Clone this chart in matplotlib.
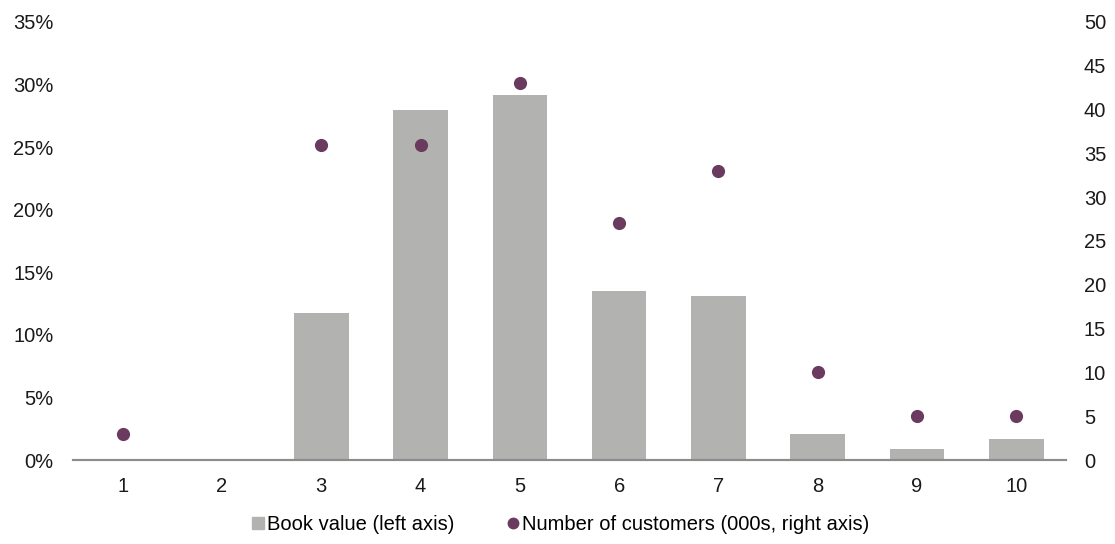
import matplotlib.pyplot as plt
from matplotlib.ticker import PercentFormatter
from matplotlib.lines import Line2D

plt.rcParams['font.family'] = ['Liberation Sans', 'DejaVu Sans']

categories = [1, 2, 3, 4, 5, 6, 7, 8, 9, 10]
book_value = [0, 0, 11.75, 28.0, 29.2, 13.5, 13.1, 2.1, 0.9, 1.7]
customers = [3, None, 36, 36, 43, 27, 33, 10, 5, 5]

bar_color = '#b2b3b1'
dot_color = '#6b3a5f'
text_color = '#1a1a1a'


def plot_chart():
    fig = plt.figure(figsize=(11.15, 5.44), dpi=100)
    ax = fig.add_axes([0.0655, 0.1544, 0.8905, 0.8052])
    ax.bar(categories, book_value, width=0.55, color=bar_color, zorder=2)
    ax.set_xlim(0.5, 10.5)
    ax.set_ylim(0, 35)
    ax.set_yticks(range(0, 36, 5))
    ax.yaxis.set_major_formatter(PercentFormatter(decimals=0))
    ax.set_xticks(categories)

    ax2 = ax.twinx()
    xs = [c for c, v in zip(categories, customers) if v is not None]
    ys = [v for v in customers if v is not None]
    ax2.scatter(xs, ys, s=90, color=dot_color, zorder=3, linewidths=0)
    ax2.set_ylim(0, 50)
    ax2.set_yticks(range(0, 51, 5))

    for a in (ax, ax2):
        for s in ('top', 'left', 'right'):
            a.spines[s].set_visible(False)
        a.spines['bottom'].set_color('#8c8c8c')
        a.spines['bottom'].set_linewidth(1.5)
        a.tick_params(length=0, labelsize=14.5, colors=text_color)
    ax.tick_params(axis='y', pad=14)
    ax.tick_params(axis='x', pad=12)
    ax2.tick_params(axis='y', pad=13)

    handles = [
        Line2D([], [], marker='s', linestyle='none', markersize=9,
               color=bar_color),
        Line2D([], [], marker='o', linestyle='none', markersize=7.5,
               color=dot_color),
    ]
    labels = ['Book value (left axis)', 'Number of customers (000s, right axis)']
    fig.legend(handles, labels, loc='center', bbox_to_anchor=(0.5027, 0.035),
               ncol=2, frameon=False, fontsize=14.5, handletextpad=0.15,
               columnspacing=2.6, handlelength=0.6)

    fig.savefig('out.png', dpi=100)


if __name__ == '__main__':
    plot_chart()
